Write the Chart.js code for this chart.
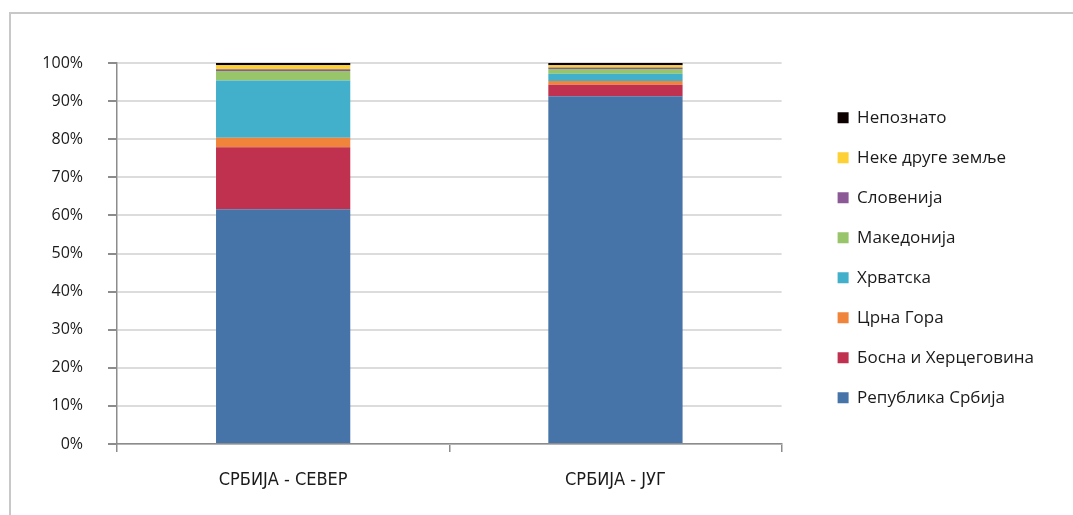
<!DOCTYPE html>
<html>
<head>
<meta charset="utf-8">
<script src="https://cdn.jsdelivr.net/npm/chart.js@4"></script>
<style>
  html, body { margin: 0; padding: 0; background: #fff; }
  #frame { position: absolute; left: 9px; top: 12px; width: 1100px; height: 600px;
           border-top: 2px solid #c8c8c8; border-left: 2px solid #c8c8c8; }
  #wrap { position: absolute; left: 0; top: 0; width: 1073px; height: 515px; }
</style>
</head>
<body>
<div id="frame"></div>
<div id="wrap"><canvas id="myChart"></canvas></div>
<script>
const regions = ['СРБИЈА - СЕВЕР', 'СРБИЈА - ЈУГ'];
const origins = ['Република Србија', 'Босна и Херцеговина', 'Црна Гора', 'Хрватска',
                 'Македонија', 'Словенија', 'Неке друге земље', 'Непознато'];
// удео по пореклу (%) за север и југ
const srbija = [61.6, 91.3];
const bih = [16.3, 3.0];
const crnaGora = [2.5, 1.0];
const hrvatska = [15.0, 1.9];
const makedonija = [2.5, 1.2];
const slovenija = [0.45, 0.4];
const drugeZemlje = [1.05, 0.6];
const nepoznato = [0.6, 0.6];
const colors = ['#4673a8', '#c0304f', '#f0843a', '#42afcb', '#98c46a', '#8b5a96', '#fdd033', '#0d0000'];

const series = [srbija, bih, crnaGora, hrvatska, makedonija, slovenija, drugeZemlje, nepoznato];

const canvas = document.getElementById('myChart');
const ctx = canvas.getContext('2d');

const config = {
  type: 'bar',
  data: {
    labels: regions,
    datasets: series.map((values, i) => ({
      label: origins[i],
      data: values,
      backgroundColor: colors[i],
      borderWidth: 0,
      barPercentage: 0.404,
      categoryPercentage: 1,
    })),
  },
  options: {
    responsive: true,
    maintainAspectRatio: false,
    animation: false,
    layout: { padding: { top: 63, right: 29, bottom: 0, left: 0 } },
    plugins: {
      tooltip: { enabled: false },
      legend: {
        position: 'right',
        align: 'start',
        reverse: true,
        maxWidth: 300,
        title: { display: true, text: '', font: { size: 16 }, padding: { top: 0, bottom: 4 } },
        labels: {
          boxWidth: 11,
          boxHeight: 11,
          padding: 23,
          color: '#1a1a1a',
          font: { family: 'Open Sans', size: 17 },
        },
      },
    },
    scales: {
      x: {
        stacked: true,
        grid: { offset: true, drawOnChartArea: false, tickLength: 8, tickColor: '#8c8c8c', lineWidth: 1.5 },
        border: { color: '#8c8c8c', width: 1.5 },
        ticks: { color: '#1a1a1a', padding: 18, font: { family: 'DejaVu Sans Condensed', size: 18 } },
        afterFit: (scale) => { scale.height = 71; },
      },
      y: {
        stacked: true,
        min: 0,
        max: 100,
        grid: { color: '#dcdcdc', lineWidth: 2, tickLength: 9, tickColor: '#8c8c8c' },
        border: { color: '#8c8c8c', width: 1.5 },
        ticks: {
          stepSize: 10,
          padding: 25,
          color: '#1a1a1a',
          font: { family: 'Open Sans', size: 16 },
          callback: (v) => v + '%',
        },
        afterFit: (scale) => { scale.width = 117; },
      },
      gap: {
        position: 'right',
        display: true,
        grid: { display: false },
        border: { display: false },
        ticks: { display: false },
        afterFit: (scale) => { scale.width = 33; },
      },
    },
  },
};

const myChart = new Chart(ctx, config);
</script>
</body>
</html>
